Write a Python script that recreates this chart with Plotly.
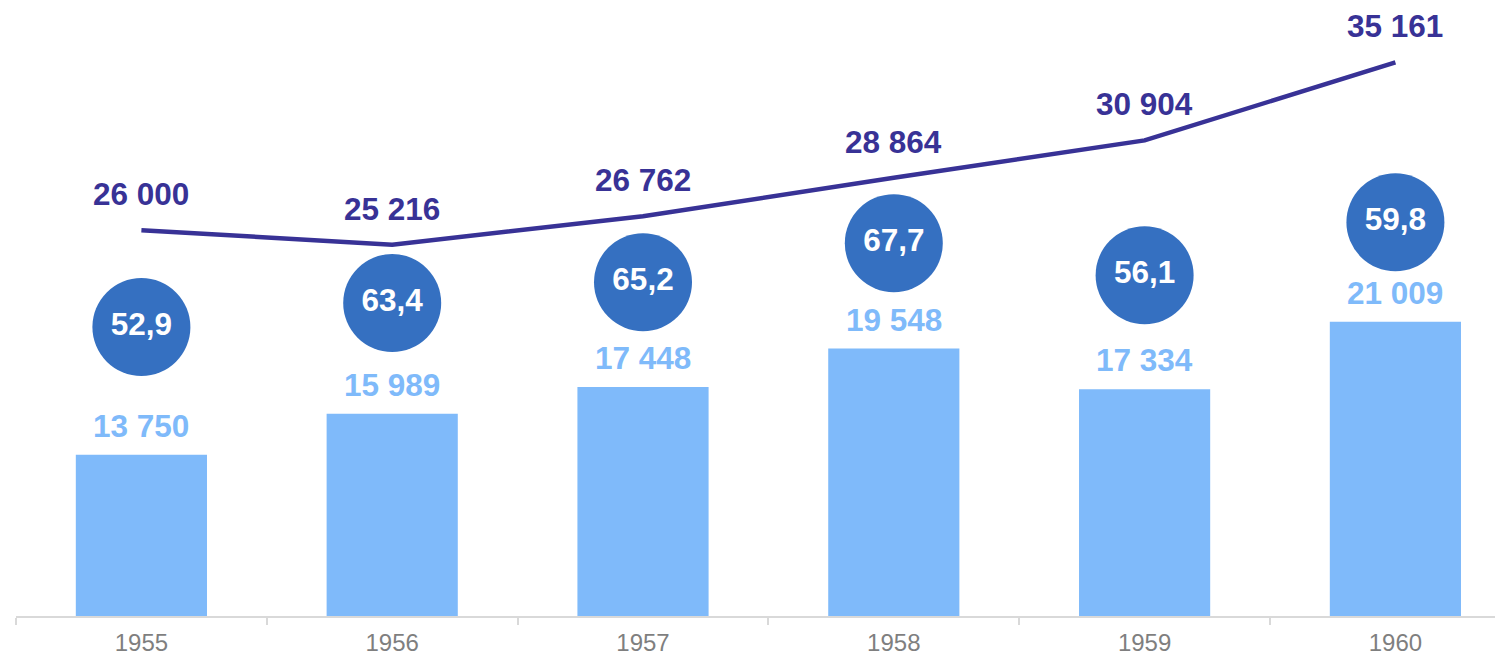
import plotly.graph_objects as go

years = ["1955", "1956", "1957", "1958", "1959", "1960"]
bar_values = [13750, 15989, 17448, 19548, 17334, 21009]
line_values = [26000, 25216, 26762, 28864, 30904, 35161]
circle_values = [52.9, 63.4, 65.2, 67.7, 56.1, 59.8]
# vertical placement of the circle badges, in units of the main y axis
circle_levels = [20720, 22030, 23170, 25300, 23550, 26440]

BAR_COLOR = "#7FBAFA"
LINE_COLOR = "#383296"
CIRCLE_COLOR = "#3570C1"
FONT = "Arial, Liberation Sans, sans-serif"


def fmt_int(v):
    return f"{v:,}".replace(",", " ")


def fmt_dec(v):
    return f"{v:.1f}".replace(".", ",")


fig = go.Figure()

fig.add_trace(go.Bar(
    x=years, y=bar_values, marker=dict(color=BAR_COLOR, line=dict(width=0)),
    width=0.523, hoverinfo="skip", showlegend=False,
))

fig.add_trace(go.Scatter(
    x=years, y=line_values, mode="lines",
    line=dict(color=LINE_COLOR, width=4.5), hoverinfo="skip", showlegend=False,
))

fig.add_trace(go.Scatter(
    x=years, y=circle_levels, mode="markers+text",
    marker=dict(color=CIRCLE_COLOR, size=98, line=dict(width=0)),
    text=[fmt_dec(v) for v in circle_values], textposition="middle center",
    textfont=dict(family=FONT, size=31.5, color="white", weight="bold"),
    hoverinfo="skip", showlegend=False, cliponaxis=False,
))

annotations = []
for i, v in enumerate(bar_values):
    annotations.append(dict(
        x=i, y=v, xref="x", yref="y", text=fmt_int(v), showarrow=False,
        yanchor="middle", yshift=29,
        font=dict(family=FONT, size=31.5, color=BAR_COLOR, weight="bold"),
    ))
for i, v in enumerate(line_values):
    annotations.append(dict(
        x=i, y=v, xref="x", yref="y", text=fmt_int(v), showarrow=False,
        yanchor="middle", yshift=36,
        font=dict(family=FONT, size=31.5, color=LINE_COLOR, weight="bold"),
    ))

fig.update_layout(
    width=1495, height=650,
    margin=dict(l=8, r=0, t=0, b=42, autoexpand=False),
    paper_bgcolor="white", plot_bgcolor="white",
    annotations=annotations,
    xaxis=dict(
        type="category", range=[-0.5, 5.429], tickson="boundaries",
        ticks="outside", ticklen=7, tickwidth=1.5, tickcolor="#D9D9D9",
        showline=True, linecolor="#D9D9D9", linewidth=2, automargin=False,
        showgrid=False, zeroline=False, ticklabelstandoff=4,
        tickfont=dict(family=FONT, size=24, color="#7F7F7F"),
    ),
    yaxis=dict(
        range=[4960, 38126], visible=False, showgrid=False, zeroline=False,
        automargin=False,
    ),
)

fig.write_html("out.html")
